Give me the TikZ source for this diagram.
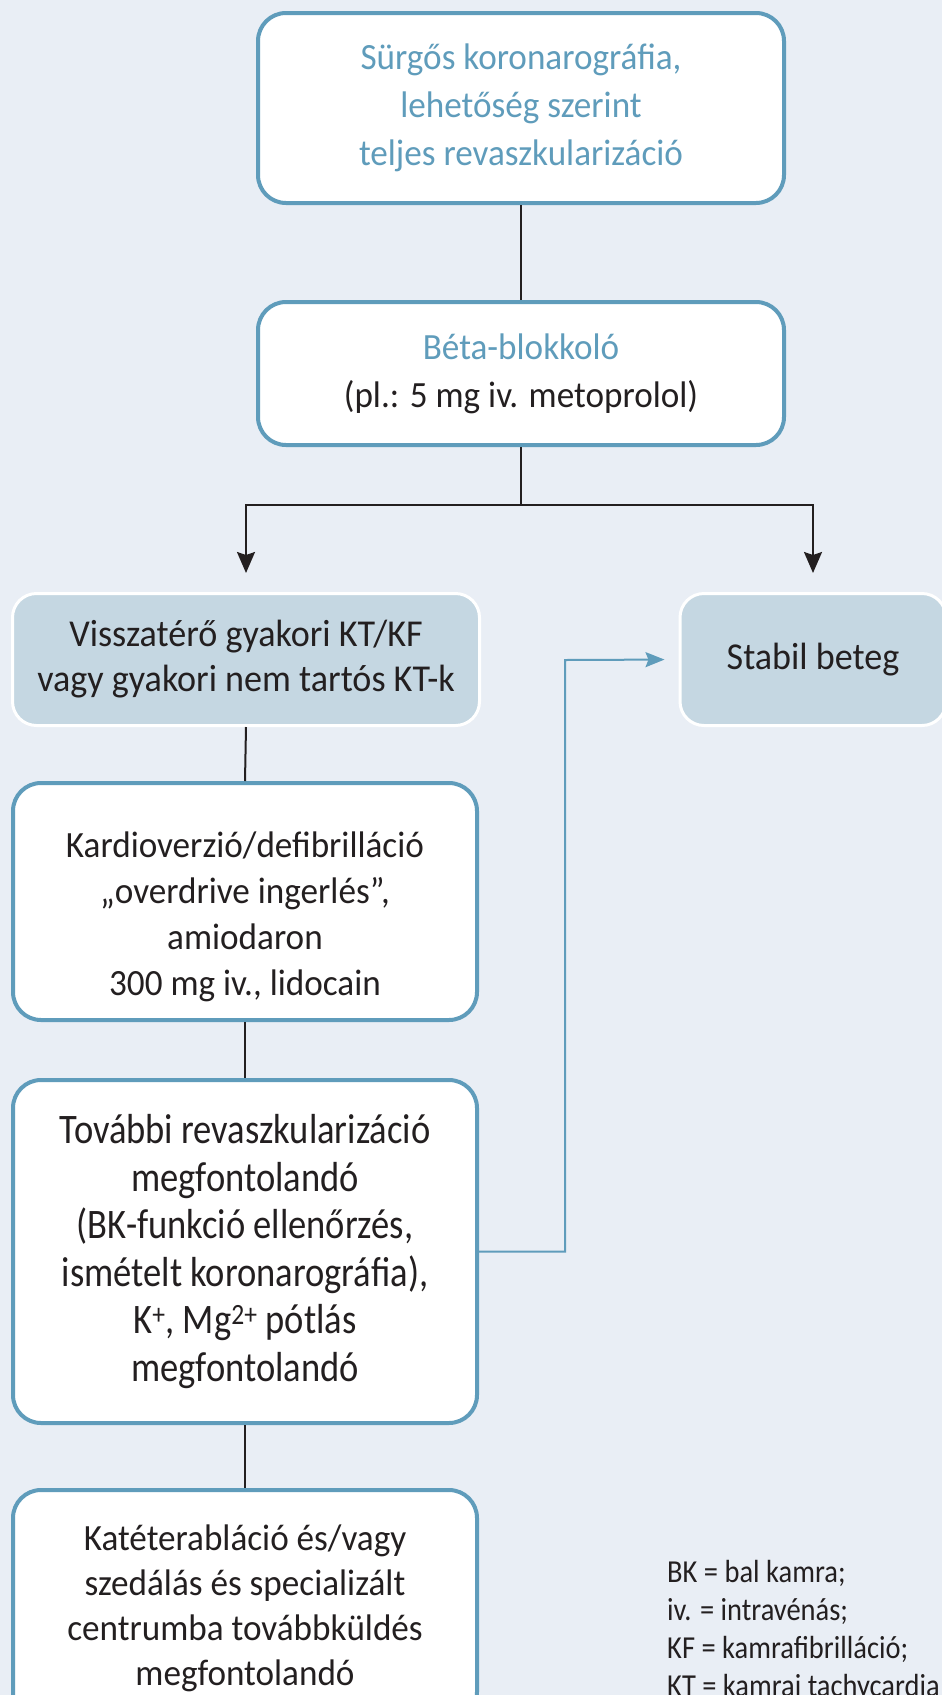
\documentclass[tikz,border=0pt]{standalone}
\usepackage{fontspec}
\setmainfont{Carlito}
\newfontfamily\humfont[FakeStretch=0.95]{Carlito}
\newfontfamily\condfont[FakeStretch=0.87]{Carlito}
\newfontfamily\notefont[FakeStretch=0.89]{Carlito}
\usetikzlibrary{arrows.meta,calc}

\definecolor{bgcol}{HTML}{E9EEF5}
\definecolor{framecol}{HTML}{5F9CBB}
\definecolor{fillcol}{HTML}{C5D7E2}
\definecolor{inkcol}{HTML}{231F20}

\tikzset{
  box/.style={draw=framecol, line width=4pt, fill=white, rounded corners=28pt,
    align=center, inner sep=0pt, text=inkcol},
  softbox/.style={draw=white, line width=3pt, fill=fillcol, rounded corners=24pt,
    align=center, inner sep=0pt, text=inkcol},
  gill/.style={font=\humfont\fontsize{37}{48}\selectfont},
  gilltight/.style={font=\humfont\fontsize{37}{45}\selectfont},
  branchfont/.style={font=\humfont\fontsize{38}{45}\selectfont},
  cond/.style={font=\condfont\fontsize{42}{47.5}\selectfont},
  plaintext/.style={align=center, inner sep=0pt, text=inkcol},
  link/.style={draw=inkcol, line width=2pt},
  flow/.style={link, -{Stealth[length=21pt,width=18pt,inset=3pt]}},
  backflow/.style={draw=framecol, line width=2pt, -{Stealth[length=19pt,width=15pt,inset=3pt]}},
  legend/.style={font=\notefont\fontsize{32}{38}\selectfont, text=inkcol, align=left,
    anchor=north west, inner sep=0pt}
}

\begin{document}
\begin{tikzpicture}[x=1pt,y=-1pt]
  \fill[bgcol] (0,0) rectangle (942,1695);
  \useasboundingbox (0,0) rectangle (942,1695);

  % main column
  \node[box, gill, minimum width=526pt, minimum height=190pt] (top) at (521,108)
    {\textcolor{framecol}{Sürgős koronarográfia,}\\
     \textcolor{framecol}{lehetőség szerint}\\
     \textcolor{framecol}{teljes revaszkularizáció}};
  \node[box, gill, minimum width=526pt, minimum height=143pt] (beta) at (521,373.5)
    {\textcolor{framecol}{Béta-blokkoló}\\(pl.: 5 mg iv. metoprolol)};

  % branches
  \node[softbox, branchfont, minimum width=467pt, minimum height=132pt] (recur) at (246,659.5)
    {Visszatérő gyakori KT/KF\\vagy gyakori nem tartós KT-k};
  \node[softbox, branchfont, minimum width=266pt, minimum height=132pt] (stable) at (813,659.5)
    {Stabil beteg};

  \node[box, minimum width=464pt, minimum height=237pt] (cardio) at (245,901.5) {};
  \node[plaintext, font=\humfont\fontsize{37}{46}\selectfont] (cardiotext)
    at ([yshift=-15pt]cardio.center)
    {Kardioverzió/defibrilláció\\„overdrive ingerlés”,\\amiodaron\\300 mg iv., lidocain};
  \node[box, cond, minimum width=464pt, minimum height=343pt] (revasc) at (245,1251.5)
    {További revaszkularizáció\\megfontolandó\\(BK-funkció ellenőrzés,\\ismételt koronarográfia),\\
     K\textsuperscript{+}, Mg\textsuperscript{2+} pótlás\\megfontolandó};
  \node[box, gilltight, minimum width=464pt, minimum height=230pt, text depth=0pt] (ablation) at (245,1605)
    {Katéterabláció és/vagy\\szedálás és specializált\\centrumba továbbküldés\\megfontolandó};

  % connectors
  \draw[link] (top.south) -- (beta.north);
  \coordinate (split) at ($(beta.south)+(0,-58pt)$);
  \draw[link] (beta.south) -- (split);
  \draw[flow, shorten >=19pt] (split) -| (recur.north);
  \draw[flow, shorten >=19pt] (split) -| (stable.north);
  \draw[link] (recur.south) -- (cardio.north);
  \draw[link] (cardio.south) -- (revasc.north);
  \draw[link] (revasc.south) -- (ablation.north);
  \coordinate (jog) at (565,660);
  \draw[backflow, shorten >=14pt] (revasc.east) -| (jog) -- (stable.west);

  % abbreviations
  \node[legend] (abbr) at (667,1560)
    {BK = bal kamra;\\iv. = intravénás;\\KF = kamrafibrilláció;\\KT = kamrai tachycardia};
\end{tikzpicture}
\end{document}
